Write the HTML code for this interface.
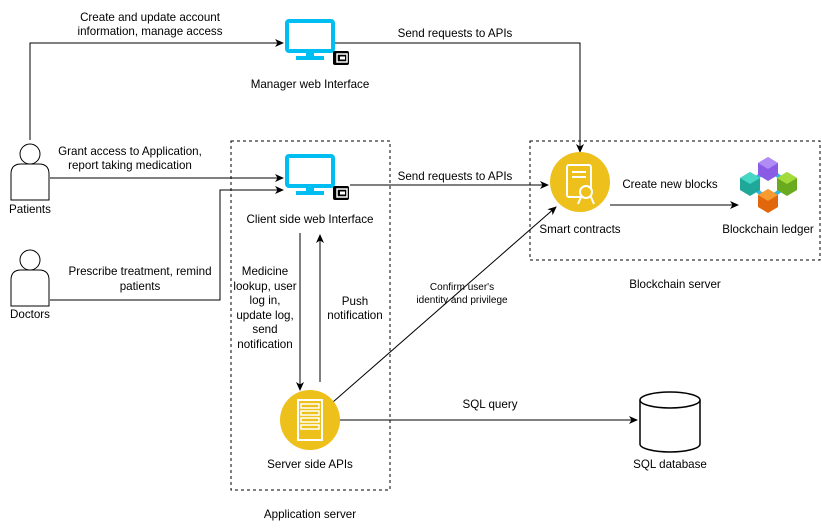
<!DOCTYPE html>
<html><head><style>
body{margin:0;background:#fff}
svg{display:block}
text{font-family:"Liberation Sans",sans-serif;font-size:11.6px;fill:#000}
</style></head><body>
<svg width="822" height="532" viewBox="0 0 822 532">
<defs>
<marker id="a" markerWidth="10" markerHeight="10" refX="8" refY="5" orient="auto" markerUnits="userSpaceOnUse"><path d="M0,1 L9,5 L0,9 L2.5,5 Z" fill="#000"/></marker>
<g id="mon">
<rect x="2" y="2" width="46" height="30" rx="2" fill="#fff" stroke="#00BEF2" stroke-width="4"/>
<rect x="21" y="33" width="8" height="5" fill="#00BEF2"/>
<rect x="11" y="37" width="28" height="4" fill="#00BEF2"/>
<rect x="48" y="32" width="16" height="14" rx="2" fill="#000"/>
<rect x="52" y="35" width="10" height="8" fill="none" stroke="#fff" stroke-width="1.5"/>
<rect x="55" y="37.5" width="5" height="3" fill="#fff"/>
</g>
<g id="person">
<circle cx="19" cy="14" r="10" fill="#fff" stroke="#000"/>
<path d="M0,60 L0,34 Q0,24 10,24 L28,24 Q38,24 38,34 L38,60 Z" fill="#fff" stroke="#000"/>
</g>
</defs>

<rect x="231" y="141" width="159" height="349" fill="none" stroke="#000" stroke-dasharray="3,3"/>
<rect x="530" y="141" width="290" height="119" fill="none" stroke="#000" stroke-dasharray="3,3"/>

<path d="M30,140 L30,43 L283,43" fill="none" stroke="#000" marker-end="url(#a)"/>
<path d="M335,43 L580,43 L580,152" fill="none" stroke="#000" marker-end="url(#a)"/>
<path d="M50,178 L283,178" fill="none" stroke="#000" marker-end="url(#a)"/>
<path d="M50,300 L220,300 L220,190 L283,190" fill="none" stroke="#000" marker-end="url(#a)"/>
<path d="M350,185 L548,185" fill="none" stroke="#000" marker-end="url(#a)"/>
<path d="M610,205 L738,205" fill="none" stroke="#000" marker-end="url(#a)"/>
<path d="M300,233 L300,390" fill="none" stroke="#000" marker-end="url(#a)"/>
<path d="M320,382 L320,235" fill="none" stroke="#000" marker-end="url(#a)"/>
<path d="M333,402 L556,207" fill="none" stroke="#000" marker-end="url(#a)"/>
<path d="M340,420 L637,420" fill="none" stroke="#000" marker-end="url(#a)"/>

<use href="#mon" x="285" y="19"/>
<use href="#mon" x="285" y="154"/>

<use href="#person" x="11" y="140"/>
<use href="#person" x="11" y="246"/>

<circle cx="580" cy="182" r="30" fill="#EDC01C"/>
<rect x="567" y="165" width="24" height="32" rx="2" fill="none" stroke="#fff" stroke-width="2"/>
<line x1="572" y1="172" x2="586" y2="172" stroke="#fff" stroke-width="2"/>
<line x1="572" y1="177" x2="586" y2="177" stroke="#fff" stroke-width="2"/>
<circle cx="586" cy="192" r="6" fill="#EDC01C" stroke="#fff" stroke-width="2"/>
<path d="M581,197 L578,204 M591,197 L594,204" stroke="#fff" stroke-width="2"/>

<g>
<line x1="768" y1="168" x2="752" y2="182" stroke="#2FB8E0" stroke-width="4"/>
<line x1="768" y1="168" x2="786" y2="182" stroke="#2FB8E0" stroke-width="4"/>
<line x1="752" y1="186" x2="768" y2="200" stroke="#2FB8E0" stroke-width="4"/>
<line x1="786" y1="186" x2="768" y2="200" stroke="#2FB8E0" stroke-width="4"/>
<path d="M758,163 L768,157 L778,163 L778,175 L768,181 L758,175Z" fill="#8A5CE6"/>
<path d="M758,163 L768,169 L778,163 L768,157Z" fill="#B08CF5"/>
<path d="M740,178 L750,172 L760,178 L760,190 L750,196 L740,190Z" fill="#1FA89A"/>
<path d="M740,178 L750,184 L760,178 L750,172Z" fill="#45D6C4"/>
<path d="M777,178 L787,172 L797,178 L797,190 L787,196 L777,190Z" fill="#6AAA1E"/>
<path d="M777,178 L787,184 L797,178 L787,172Z" fill="#A3DA3C"/>
<path d="M758,195 L768,189 L778,195 L778,207 L768,213 L758,207Z" fill="#E2660C"/>
<path d="M758,195 L768,201 L778,195 L768,189Z" fill="#F79A30"/>
</g>

<circle cx="310" cy="420" r="30" fill="#EDC01C"/>
<rect x="298" y="400" width="24" height="40" fill="none" stroke="#fff" stroke-width="2"/>
<rect x="301" y="404" width="18" height="4" fill="none" stroke="#fff" stroke-width="1.5"/>
<rect x="301" y="411" width="18" height="4" fill="none" stroke="#fff" stroke-width="1.5"/>
<rect x="301" y="418" width="18" height="4" fill="none" stroke="#fff" stroke-width="1.5"/>
<rect x="301" y="425" width="18" height="4" fill="none" stroke="#fff" stroke-width="1.5"/>

<path d="M640,400 L640,444 A30,8 0 0 0 700,444 L700,400" fill="#fff" stroke="#000" stroke-width="1.5"/>
<ellipse cx="670" cy="400" rx="30" ry="8" fill="#fff" stroke="#000" stroke-width="1.5"/>

<g text-anchor="middle">
<text x="150" y="21">Create and update account</text>
<text x="150" y="35">information, manage access</text>
<text x="455" y="37">Send requests to APIs</text>
<text x="310" y="88">Manager web Interface</text>
<text x="130" y="155">Grant access to Application,</text>
<text x="130" y="169">report taking medication</text>
<text x="30" y="213">Patients</text>
<text x="140" y="275">Prescribe treatment, remind</text>
<text x="140" y="290">patients</text>
<text x="30" y="318">Doctors</text>
<text x="310" y="223">Client side web Interface</text>
<text x="455" y="180">Send requests to APIs</text>
<text x="580" y="233">Smart contracts</text>
<text x="670" y="188">Create new blocks</text>
<text x="768" y="233">Blockchain ledger</text>
<text x="675" y="288">Blockchain server</text>
<text x="265" y="275">Medicine</text>
<text x="265" y="290">lookup, user</text>
<text x="265" y="304">log in,</text>
<text x="265" y="319">update log,</text>
<text x="265" y="333">send</text>
<text x="265" y="348">notification</text>
<text x="355" y="305">Push</text>
<text x="355" y="319">notification</text>
<text x="462" y="290" style="font-size:10px">Confirm user's</text>
<text x="462" y="303" style="font-size:10px">identity and privilege</text>
<text x="490" y="408">SQL query</text>
<text x="310" y="468">Server side APIs</text>
<text x="670" y="468">SQL database</text>
<text x="310" y="518">Application server</text>
</g>
</svg>
</body></html>
